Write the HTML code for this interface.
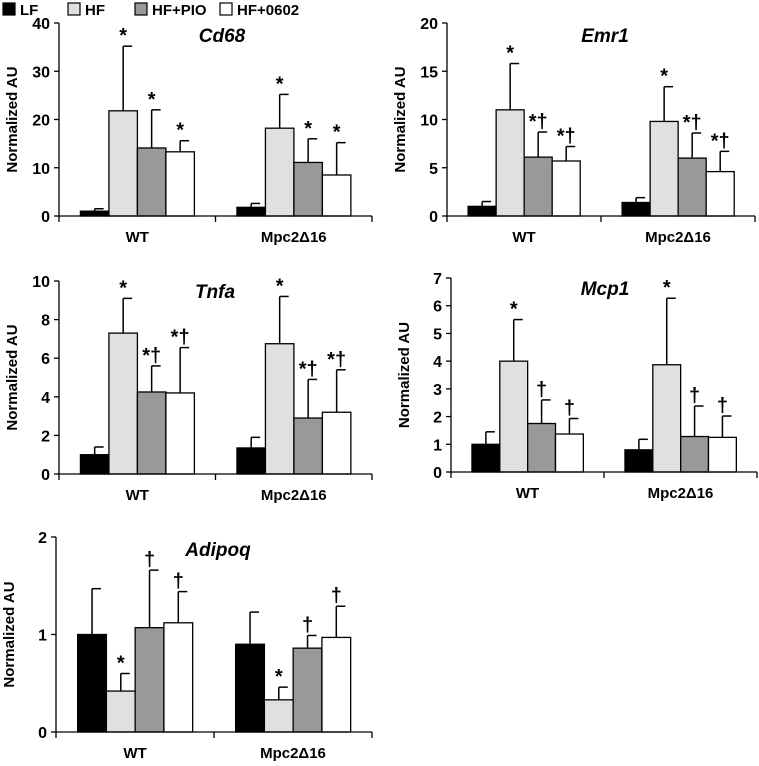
<!DOCTYPE html>
<html><head><meta charset="utf-8"><style>
html,body{margin:0;padding:0;background:#fff;}
svg{display:block;font-family:"Liberation Sans",sans-serif;}
</style></head><body>
<svg id="fig" width="759" height="766" viewBox="0 0 759 766" xmlns="http://www.w3.org/2000/svg"></svg>
<script>
const groups = ["WT", "Mpc2\u039416"];
const seriesNames = ["LF", "HF", "HF+PIO", "HF+0602"];
const seriesFill = ["#000000", "#e0e0e0", "#999999", "#ffffff"];

const cd68Vals = [[1, 21.8, 14.1, 13.3], [1.8, 18.2, 11.1, 8.5]];
const cd68Err  = [[1.5, 35.2, 22, 15.6], [2.6, 25.2, 16, 15.2]];
const cd68Ann  = [["", "*", "*", "*"], ["", "*", "*", "*"]];
const cd68Ticks = [0, 10, 20, 30, 40];

const emr1Vals = [[1, 11, 6.1, 5.7], [1.4, 9.8, 6, 4.6]];
const emr1Err  = [[1.5, 15.8, 8.7, 7.2], [1.9, 13.4, 8.6, 6.7]];
const emr1Ann  = [["", "*", "*†", "*†"], ["", "*", "*†", "*†"]];
const emr1Ticks = [0, 5, 10, 15, 20];

const tnfaVals = [[1, 7.3, 4.25, 4.2], [1.35, 6.75, 2.9, 3.2]];
const tnfaErr  = [[1.4, 9.1, 5.6, 6.55], [1.9, 9.2, 4.9, 5.4]];
const tnfaAnn  = [["", "*", "*†", "*†"], ["", "*", "*†", "*†"]];
const tnfaTicks = [0, 2, 4, 6, 8, 10];

const mcp1Vals = [[1, 4, 1.75, 1.37], [0.8, 3.87, 1.28, 1.25]];
const mcp1Err  = [[1.45, 5.5, 2.6, 1.93], [1.18, 6.27, 2.38, 2.02]];
const mcp1Ann  = [["", "*", "†", "†"], ["", "*", "†", "†"]];
const mcp1Ticks = [0, 1, 2, 3, 4, 5, 6, 7];

const adipoqVals = [[1, 0.42, 1.07, 1.12], [0.9, 0.33, 0.86, 0.97]];
const adipoqErr  = [[1.47, 0.6, 1.66, 1.44], [1.23, 0.46, 0.99, 1.29]];
const adipoqAnn  = [["", "*", "†", "†"], ["", "*", "†", "†"]];
const adipoqTicks = [0, 1, 2];

const svg = document.getElementById('fig');
const NS = 'http://www.w3.org/2000/svg';
function mk(tag, attrs, parent, text) {
  const e = document.createElementNS(NS, tag);
  for (const k in attrs) e.setAttribute(k, attrs[k]);
  if (text !== undefined) e.textContent = text;
  (parent || svg).appendChild(e);
  return e;
}

const panels = [
  {key:'cd68', title:'Cd68', vals:cd68Vals, err:cd68Err, ann:cd68Ann, ticks:cd68Ticks, x0:59, x1:372, y0:216, yT:23, tx:222, ty:42},
  {key:'emr1', title:'Emr1', vals:emr1Vals, err:emr1Err, ann:emr1Ann, ticks:emr1Ticks, x0:447, x1:755, y0:216, yT:23, tx:605, ty:42},
  {key:'tnfa', title:'Tnfa', vals:tnfaVals, err:tnfaErr, ann:tnfaAnn, ticks:tnfaTicks, x0:59, x1:372, y0:474, yT:281, tx:215, ty:298},
  {key:'mcp1', title:'Mcp1', vals:mcp1Vals, err:mcp1Err, ann:mcp1Ann, ticks:mcp1Ticks, x0:451, x1:757, y0:472, yT:278, tx:605, ty:295},
  {key:'adipoq', title:'Adipoq', vals:adipoqVals, err:adipoqErr, ann:adipoqAnn, ticks:adipoqTicks, x0:56, x1:372, y0:732, yT:537, tx:218, ty:556}
];

panels.forEach(p => {
  const g = mk('g', {});
  
  
  const max = p.ticks[p.ticks.length - 1];
  const yS = v => p.y0 - (v / max) * (p.y0 - p.yT);
  const catW = (p.x1 - p.x0) / groups.length;
  const bw = catW * 0.182;
  const off = catW * 0.137;
  // y ticks
  p.ticks.forEach(t => {
    const y = yS(t);
    mk('line', {x1:p.x0-5, x2:p.x0, y1:y, y2:y, stroke:'#000', 'stroke-width':1.3}, g);
    const lb = mk('text', {x:p.x0-9, y:y+6, 'text-anchor':'end', 'font-size':16, 'font-weight':'bold'}, g, t);
    
    
  });
  const yl = mk('text', {x:0, y:0, transform:`translate(${p.x0-42},${(p.y0+p.yT)/2}) rotate(-90)`, 'text-anchor':'middle', 'font-size':15, 'font-weight':'bold'}, g, 'Normalized AU');
  
  
  // bars
  groups.forEach((gn, gi) => {
    const cx0 = p.x0 + gi * catW;
    p.vals[gi].forEach((v, si) => {
      const x = cx0 + off + si * bw;
      const yv = yS(v), ye = yS(p.err[gi][si]);
      const cxm = x + bw / 2;
      mk('line', {x1:cxm, x2:cxm, y1:yv, y2:ye, stroke:'#000', 'stroke-width':1.5}, g);
      mk('line', {x1:cxm, x2:cxm+9, y1:ye, y2:ye, stroke:'#000', 'stroke-width':1.5}, g);
      const r = mk('rect', {x:x, y:yv, width:bw, height:p.y0 - yv, fill:seriesFill[si], stroke:'#000', 'stroke-width':1.3}, g);
      
      
      const a = p.ann[gi][si];
      if (a) {
        const at = mk('text', {x:cxm, y:ye - 4, 'text-anchor':'middle', 'font-size':20, 'font-weight':'bold'}, g, a);
        
        
      }
    });
    const cl = mk('text', {x:cx0 + catW/2, y:p.y0 + 26, 'text-anchor':'middle', 'font-size':15, 'font-weight':'bold'}, g, gn);
    
    
  });
  // axes
  mk('line', {x1:p.x0, x2:p.x0, y1:p.yT, y2:p.y0, stroke:'#000', 'stroke-width':1.3}, g);
  mk('line', {x1:p.x0, x2:p.x1, y1:p.y0, y2:p.y0, stroke:'#000', 'stroke-width':1.3}, g);
  for (let i = 0; i <= groups.length; i++) {
    const x = p.x0 + i * catW;
    mk('line', {x1:x, x2:x, y1:p.y0, y2:p.y0+6, stroke:'#000', 'stroke-width':1.3}, g);
  }
  const tt = mk('text', {x:p.tx, y:p.ty, 'text-anchor':'middle', 'font-size':19, 'font-weight':'bold', 'font-style':'italic'}, g, p.title);
  
  
});

// legend
const legX = [3, 68, 135, 220];
const lg = mk('g', {});


seriesNames.forEach((n, i) => {
  const e = mk('g', {}, lg);
  
  
  mk('rect', {x:legX[i], y:3, width:12, height:12, fill:seriesFill[i], stroke:'#000', 'stroke-width':1.2}, e);
  mk('text', {x:legX[i] + 17, y:15, 'font-size':15, 'font-weight':'bold'}, e, n);
});
</script>
</body></html>
